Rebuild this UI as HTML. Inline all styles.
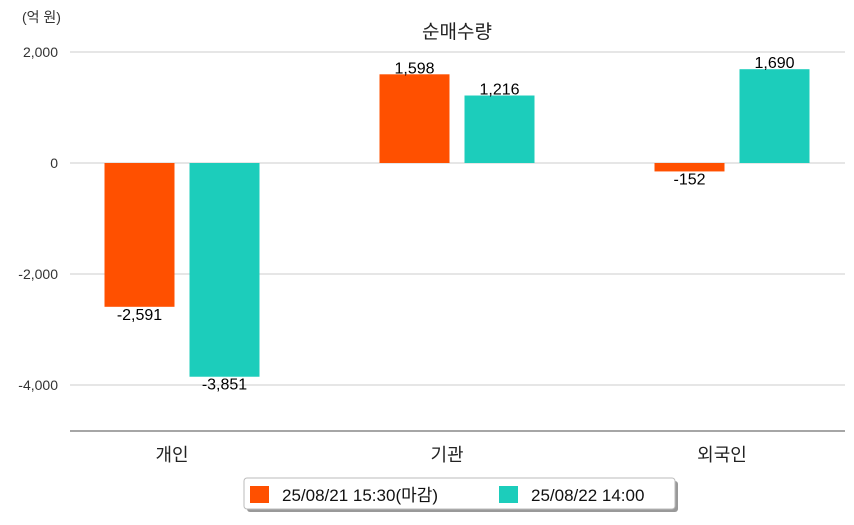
<!DOCTYPE html>
<html><head><meta charset="utf-8"><style>
body{margin:0;background:#fff;}
svg text{font-family:"Liberation Sans","Noto Sans CJK KR",sans-serif;}
</style></head><body>
<svg id="c" width="854" height="520" xmlns="http://www.w3.org/2000/svg"></svg>
<script>
const categories=["개인","기관","외국인"];
const seriesNames=["25/08/21 15:30(마감)","25/08/22 14:00"];
const series1=[-2591,1598,-152];
const series2=[-3851,1216,1690];
const yTicks=[2000,0,-2000,-4000];
const colors=["#ff5000","#1ccdbb"];
const svg=document.getElementById('c');
const NS="http://www.w3.org/2000/svg";
function y(v){return 163-v*111/2000;}
function cx(i){return 182+i*275;}
function mk(tag,attrs,txt){const e=document.createElementNS(NS,tag);for(const k in attrs)e.setAttribute(k,attrs[k]);if(txt!==undefined)e.textContent=txt;svg.appendChild(e);return e;}
function fmt(v){return v.toLocaleString('en-US');}
let t=mk('text',{x:22,y:22,'font-size':14,fill:'#333'},'(억 원)');


t=mk('text',{x:457,y:38,'font-size':19,fill:'#222','text-anchor':'middle'},'순매수량');


yTicks.forEach(v=>{
 const g=mk('line',{x1:70,x2:845,y1:y(v),y2:y(v),stroke:'#ccc','stroke-width':1});
 
 
 const l=mk('text',{x:58,y:y(v)+5,'font-size':14,fill:'#333','text-anchor':'end'},fmt(v));
 
 
});
const ax=mk('line',{x1:70,x2:845,y1:431,y2:431,stroke:'#888','stroke-width':1.5});


categories.forEach((c,i)=>{
 [series1,series2].forEach((s,k)=>{
  const v=s[i];const x0=cx(i)-77.5+k*85;
  const r=mk('rect',{x:x0,y:Math.min(y(v),y(0)),width:70,height:Math.abs(y(v)-y(0)),fill:colors[k]});
  
  
  const ly=v>=0?y(v)-1:y(v)+13;
  const l=mk('text',{x:x0+35,y:ly,'font-size':16,fill:'#000','text-anchor':'middle'},fmt(v));
  
  
 });
 const l=mk('text',{x:cx(i)-10,y:461,'font-size':18,fill:'#222','text-anchor':'middle'},c);
 
 
});
const sh=mk('rect',{x:247,y:481,width:431,height:31,rx:3,fill:'#999'});


const lb=mk('rect',{x:244,y:478,width:431,height:31,rx:3,fill:'#fff',stroke:'#bbb'});


const lx=[250,499];
seriesNames.forEach((n,k)=>{
 const s=mk('rect',{x:lx[k],y:486,width:19,height:17,fill:colors[k]});
 
 
 const l=mk('text',{x:lx[k]+32,y:501,'font-size':17,fill:'#111'},n);
 
 
});
</script>
</body></html>
